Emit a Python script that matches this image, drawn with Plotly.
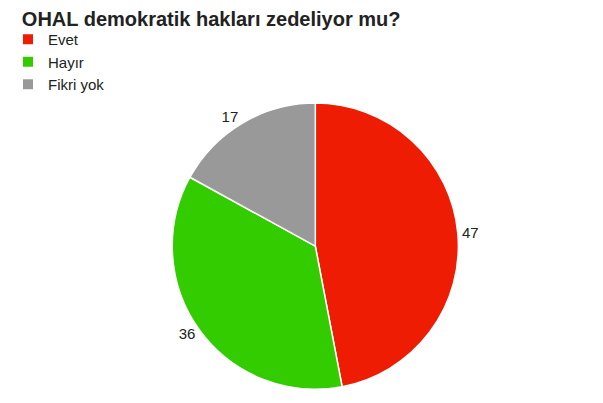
import plotly.graph_objects as go

categories = ["Evet", "Hayır", "Fikri yok"]
values = [47, 36, 17]
colors = ["#ee1c02", "#33cc00", "#999999"]
title_text = "OHAL demokratik hakları zedeliyor mu?"

fig = go.Figure(go.Pie(
    labels=categories,
    values=values,
    sort=False,
    direction="clockwise",
    rotation=0,
    marker=dict(colors=colors, line=dict(color="white", width=1.5)),
    textinfo="value",
    textposition="outside",
    textfont=dict(family="Liberation Sans, Arial, sans-serif", size=15, color="#222222"),
    hoverinfo="label+value",
    domain=dict(x=[0.183, 0.833], y=[0.054, 0.764]),
))

fig.update_layout(
    width=603, height=403,
    margin=dict(l=0, r=0, t=0, b=0),
    paper_bgcolor="white",
    font=dict(family="Liberation Sans, Arial, sans-serif", color="#222222"),
    title=dict(text="<b>" + title_text + "</b>", x=0.023, xanchor="left", y=1.0, yanchor="top",
               pad=dict(t=4, l=0, r=0, b=0),
               font=dict(size=20, color="#222222")),
    legend=dict(x=-0.004, y=0.963, xanchor="left", yanchor="top", font=dict(size=15, color="#222222"),
                bgcolor="rgba(0,0,0,0)", itemsizing="constant", tracegroupgap=0),
    showlegend=True,
)

fig.write_html("out.html")
